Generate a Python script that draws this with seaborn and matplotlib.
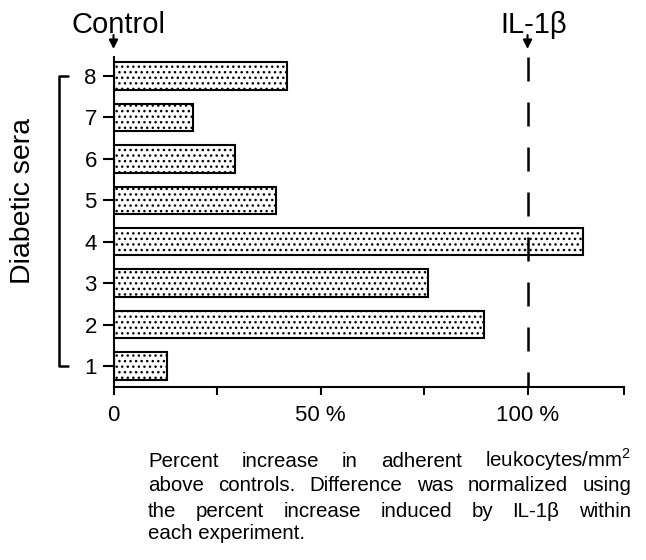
import matplotlib
matplotlib.use("Agg")
import matplotlib.pyplot as plt
import seaborn as sns

# Percent increase in adherent leukocytes above controls, per diabetic serum
sera = [1, 2, 3, 4, 5, 6, 7, 8]
increase = [12.9, 89.6, 76.0, 113.3, 39.2, 29.3, 19.2, 41.9]
il1b_level = 100
xtick_pos = [0, 25, 50, 75, 100, 123.3]
xtick_labels = ['0', '', '50 %', '', '100 %', '']

caption = [
    ('Percent increase in adherent leukocytes/mm$^2$', True),
    ('above controls. Difference was normalized using', True),
    ('the percent increase induced by IL-1\u03b2 within', True),
    ('each experiment.', False),
]

sns.set_style('ticks')
plt.rcParams['font.family'] = ['Liberation Sans', 'DejaVu Sans']
plt.rcParams['mathtext.fontset'] = 'custom'
plt.rcParams['mathtext.rm'] = 'Liberation Sans'
plt.rcParams['hatch.linewidth'] = 1.0
for key in ['text.color', 'xtick.color', 'ytick.color', 'axes.labelcolor',
            'xtick.labelcolor', 'ytick.labelcolor']:
    plt.rcParams[key] = 'black'

W, H = 646, 560
fig = plt.figure(figsize=(W / 100, H / 100), dpi=100)
ax = fig.add_axes([113.5 / W, 1 - 387 / H, (624 - 113.5) / W, (387 - 57) / H])

sns.barplot(x=increase, y=sera, orient='h', native_scale=True, color='white',
            edgecolor='black', linewidth=1.5, hatch='...', width=0.66, ax=ax)

ax.set_xlim(0, 123.3)
ax.set_ylim(0.493, 8.46)
ax.set_xticks(xtick_pos)
ax.set_xticklabels(xtick_labels, fontsize=16)
ax.set_yticks(sera)
ax.set_yticklabels([str(s) for s in sera], fontsize=16)
ax.tick_params(axis='x', length=6, width=1.5, pad=7)
ax.tick_params(axis='y', length=8, width=1.5, pad=4)
ax.set_xlabel('')
ax.set_ylabel('')
sns.despine(ax=ax)
for s in ['left', 'bottom']:
    ax.spines[s].set_linewidth(1.5)
    ax.spines[s].set_color('black')

# IL-1beta reference line
ax.plot([il1b_level, il1b_level], [8.46, 0.493], color='black', lw=1.8,
        dashes=(9.6, 8.4), clip_on=False)

# arrows and labels on top
xt = ax.get_xaxis_transform()
for xv, label, xc in [(0, 'Control', 1.2), (il1b_level, 'IL-1\u03b2', 101.5)]:
    ax.annotate('', xy=(xv, 1 + 8 / 330), xycoords=xt,
                xytext=(xv, 1 + 22 / 330), textcoords=xt,
                arrowprops=dict(arrowstyle='-|>', color='black', lw=1.5,
                                mutation_scale=13, shrinkA=0, shrinkB=0))
    ax.text(xc, 1 + 24 / 330, label, transform=xt, ha='center', va='baseline',
            fontsize=21)

# bracket for diabetic sera
yt = ax.get_yaxis_transform()
bx0, bx1 = (59 - 113.5) / 510.5, (68 - 113.5) / 510.5
ax.plot([bx1, bx0, bx0, bx1], [sera[-1], sera[-1], sera[0], sera[0]],
        color='black', lw=1.8, transform=yt, clip_on=False)
fig.text(23 / W, 1 - 201 / H, 'Diabetic sera', rotation=90, ha='center',
         va='center', fontsize=20.5)

# justified caption
fig.canvas.draw()
renderer = fig.canvas.get_renderer()
baselines = [467, 491, 517, 539]
x_left, x_right = 148, 631
cap_size = 14.8
for (line, justify), base in zip(caption, baselines):
    if not justify:
        fig.text(x_left / W, 1 - base / H, line, fontsize=cap_size, va='baseline')
        continue
    words = line.split(' ')
    texts = [fig.text(0, 1 - base / H, w, fontsize=cap_size, va='baseline')
             for w in words]
    widths = [t.get_window_extent(renderer).width for t in texts]
    gap = (x_right - x_left - sum(widths)) / (len(words) - 1)
    x = x_left
    for t, w in zip(texts, widths):
        t.set_x(x / W)
        x += w + gap

fig.savefig('out.png', dpi=100)
